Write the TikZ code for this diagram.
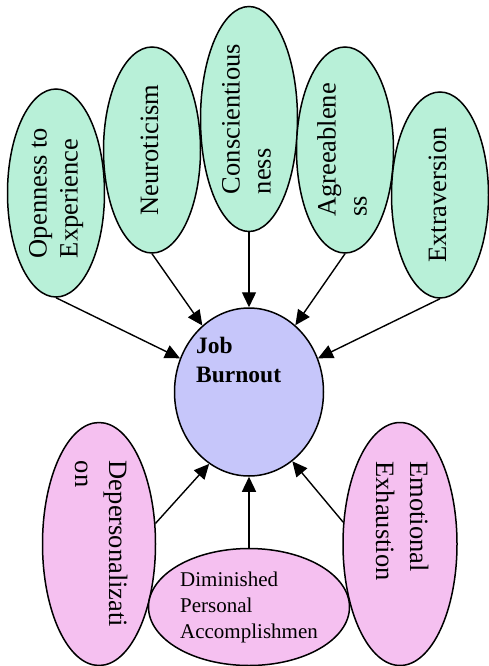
\documentclass[tikz,border=0pt]{standalone}
\usepackage{fontspec}
\usepackage{graphicx}
\setmainfont{Liberation Serif}
\usetikzlibrary{shapes.geometric,arrows.meta}
\definecolor{traitgreen}{HTML}{B8F0D8}
\definecolor{burnblue}{HTML}{C6C6FA}
\definecolor{dimpink}{HTML}{F5C0F0}
\newcommand{\uptext}[1]{\rotatebox{90}{\begin{tabular}{@{}l@{}}#1\end{tabular}}}
\newcommand{\downtext}[1]{\rotatebox{-90}{\begin{tabular}{@{}l@{}}#1\end{tabular}}}
\tikzset{
    trait/.style={ellipse,draw=black,fill=traitgreen,line width=1.5pt,inner sep=0pt,
        minimum width=97pt,minimum height=206pt,font=\fontsize{26.5}{31}\selectfont},
    dimension/.style={ellipse,draw=black,fill=dimpink,line width=1.5pt,inner sep=0pt,
        minimum width=113pt,minimum height=243pt,font=\fontsize{26.5}{34}\selectfont},
    burnout/.style={ellipse,draw=black,fill=burnblue,line width=1.5pt,inner sep=0pt,
        minimum width=149pt,minimum height=168pt},
    arr/.style={line width=1.4pt,-{Triangle[length=15pt,width=14pt]}}
}
\begin{document}
\begin{tikzpicture}[x=1pt,y=-1pt]
    \useasboundingbox (0,0) rectangle (488,666);
    % personality traits
    \node at ( 56,193) [trait,minimum height=208pt] (open)  {\uptext{Openness to\\Experience}};
    \node at (152,150) [trait] (neuro) {\uptext{Neuroticism}};
    \node at (249,119) [trait,minimum height=225pt] (consc) {\uptext{Conscientious\\ness}};
    \node at (345,150) [trait] (agree) {\uptext{Agreeablene\\ss}};
    \node at (440,195) [trait] (extra) {\uptext{Extraversion}};
    % job burnout
    \node at (249,392) [burnout] (burn) {};
    \node at (196,337) [anchor=north west,align=left,inner sep=0pt,
        font=\fontsize{23.5}{29}\selectfont\bfseries] (burnlbl) {Job\\Burnout};
    % burnout dimensions
    \node at ( 99,544) [dimension] (depers) {\downtext{Depersonalizati\\on}};
    \node at (249,607) [dimension,minimum width=201pt,minimum height=117pt,
        font=\fontsize{21}{26}\selectfont] (dimin) {\begin{tabular}{@{}l@{}}Diminished\\Personal\\Accomplishmen\end{tabular}};
    \node at (400,544) [dimension,minimum width=114pt] (emot) {\downtext{Emotional\\Exhaustion\hspace*{46pt}}};
    % arrows
    \draw[arr] (open.south)  -- (burn);
    \draw[arr] (neuro.south) -- (burn);
    \draw[arr] (consc.south) -- (burn);
    \draw[arr] (agree.south) -- (burn);
    \draw[arr] (extra.south) -- (burn);
    \draw[arr] (depers.20)   -- (burn.241);
    \draw[arr] (dimin.north) -- (burn.south);
    \draw[arr] (emot.159)    -- (burn.302);
\end{tikzpicture}
\end{document}
